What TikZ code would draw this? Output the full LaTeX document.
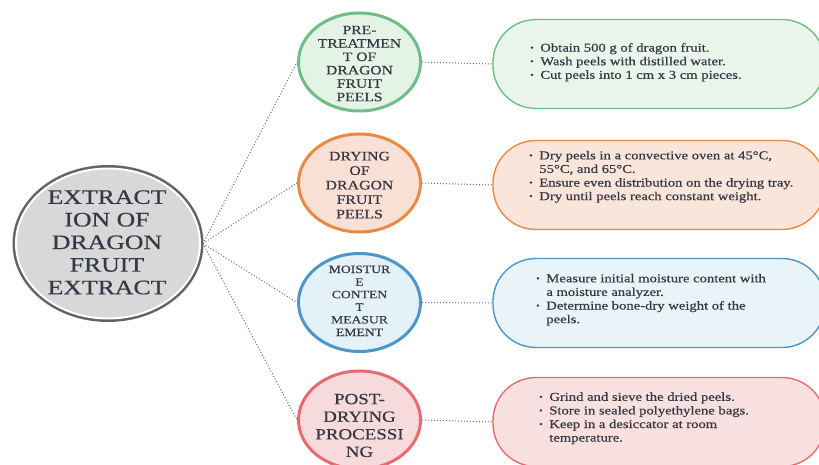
\documentclass[tikz,border=0pt]{standalone}
\usepackage{fontspec}
\setmainfont{Liberation Serif}[FakeBold=0.45]
\usepackage{graphicx}
\usetikzlibrary{shapes.geometric}

% palette
\definecolor{ink}{RGB}{52,56,68}
\definecolor{linkc}{RGB}{92,112,138}
\definecolor{ringgray}{RGB}{100,100,100}
\definecolor{hubfill}{RGB}{216,216,216}
\definecolor{gEdge}{RGB}{112,190,134}
\definecolor{gFill}{RGB}{227,243,230}
\definecolor{oEdge}{RGB}{232,138,68}
\definecolor{oFill}{RGB}{249,224,212}
\definecolor{bEdge}{RGB}{78,150,200}
\definecolor{bFill}{RGB}{228,241,247}
\definecolor{rEdge}{RGB}{230,108,114}
\definecolor{rFill}{RGB}{247,218,219}

% wide lettering
\newcommand{\widetext}[1]{\scalebox{1.22}[1]{#1}}
\newcommand{\bul}{\raisebox{1.3pt}{\fontsize{8}{8}\selectfont\textbullet}}
\newcommand{\steplist}[1]{\widetext{\begin{tabular}{@{}l@{\hspace{5.5pt}}l@{}}#1\end{tabular}}}
\newcommand{\capstack}[1]{\widetext{\begin{tabular}{@{}c@{}}#1\end{tabular}}}

\tikzset{
  hub/.style={ellipse, inner sep=0pt, minimum width=184pt, minimum height=150pt,
    fill=hubfill, draw=white, line width=2pt,
    preaction={draw=ringgray, line width=7pt}},
  hubtext/.style={inner sep=0pt, text=ink, font=\fontsize{20.5}{22.6}\selectfont},
  stage/.style={ellipse, inner sep=0pt, minimum width=122pt, minimum height=98pt, line width=3pt},
  stagetext/.style={inner sep=0pt, text=ink},
  detail/.style={rectangle, rounded corners=43pt, inner sep=0pt,
    minimum width=332pt, minimum height=89pt, line width=1.4pt},
  detailtext/.style={inner sep=0pt, anchor=west, text=ink, font=\fontsize{12}{13.6}\selectfont},
  link/.style={draw=linkc, line width=1pt, dotted},
}

\begin{document}
\begin{tikzpicture}[x=1pt, y=-1pt]
\useasboundingbox (0,0) rectangle (819,465);

% central topic
\node[hub] (hub) at (108,243.5) {};
\node[hubtext] (hubt) at (107,244.5) {\scalebox{1.03}[1]{\capstack{EXTRACT\\ION OF\\DRAGON\\FRUIT\\EXTRACT}}};

% stage circles
\node[stage, draw=gEdge, fill=gFill] (s1) at (359.5,62) {};
\node[stage, draw=oEdge, fill=oFill] (s2) at (359.5,183) {};
\node[stage, draw=bEdge, fill=bFill] (s3) at (359.5,302.5) {};
\node[stage, draw=rEdge, fill=rFill] (s4) at (359.5,420) {};

\node[stagetext, font=\fontsize{12.8}{13.4}\selectfont] (s1t) at (359.5,65)
  {\capstack{PRE-\\TREATMEN\\T OF\\DRAGON\\FRUIT\\PEELS}};
\node[stagetext, font=\fontsize{13}{14.5}\selectfont] (s2t) at (359.5,186.5)
  {\capstack{DRYING\\OF\\DRAGON\\FRUIT\\PEELS}};
\node[stagetext, font=\fontsize{11.2}{12.6}\selectfont] (s3t) at (359.5,302)
  {\capstack{MOISTUR\\E\\CONTEN\\T\\MEASUR\\EMENT}};
\node[stagetext, font=\fontsize{15.5}{17.6}\selectfont] (s4t) at (359.5,427)
  {\capstack{POST-\\DRYING\\PROCESSI\\NG}};

% detail panels
\node[detail, draw=gEdge, fill=gFill!80!white] (d1) at (659,64) {};
\node[detail, draw=oEdge, fill=oFill!85!white] (d2) at (659,185) {};
\node[detail, draw=bEdge, fill=bFill!80!white] (d3) at (659,303) {};
\node[detail, draw=rEdge, fill=rFill!85!white] (d4) at (659,422) {};

\node[detailtext] (d1t) at (530,62.5) {\steplist{%
  \bul & Obtain 500 g of dragon fruit.\\
  \bul & Wash peels with distilled water.\\
  \bul & Cut peels into 1 cm x 3 cm pieces.}};
\node[detailtext] (d2t) at (529,177) {\steplist{%
  \bul & Dry peels in a convective oven at 45°C,\\
       & 55°C, and 65°C.\\
  \bul & Ensure even distribution on the drying tray.\\
  \bul & Dry until peels reach constant weight.}};
\node[detailtext] (d3t) at (536,300) {\steplist{%
  \bul & Measure initial moisture content with\\
       & a moisture analyzer.\\
  \bul & Determine bone-dry weight of the\\
       & peels.}};
\node[detailtext] (d4t) at (539,418.5) {\steplist{%
  \bul & Grind and sieve the dried peels.\\
  \bul & Store in sealed polyethylene bags.\\
  \bul & Keep in a desiccator at room\\
       & temperature.}};

% connectors
\foreach \s in {s1,s2,s3,s4}
  \draw[link] ([xshift=2pt]hub.east) -- (\s.west);
\draw[link] (s1.east) -- (d1.west);
\draw[link] (s2.east) -- (d2.west);
\draw[link] (s3.east) -- (d3.west);
\draw[link] (s4.east) -- (d4.west);
\end{tikzpicture}
\end{document}
